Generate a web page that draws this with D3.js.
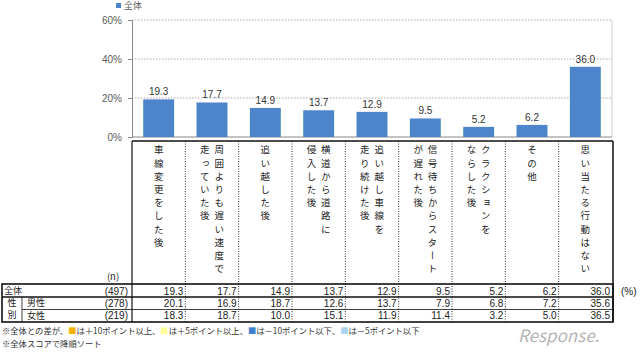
<!DOCTYPE html>
<html>
<head>
<meta charset="utf-8">
<script src="https://cdn.jsdelivr.net/npm/d3@7"></script>
<style>
  body { margin: 0; background: #fff; }
  svg text { font-family: "Noto Sans CJK JP", sans-serif; }
  .num { font-family: "Liberation Sans", Arial, sans-serif; }
  .vert { writing-mode: vertical-rl; }
</style>
</head>
<body>
<svg id="chart"></svg>
<script>
// categories, each split into vertical columns (first = rightmost)
const categories = [
    ["車線変更をした後"],
    ["周囲よりも遅い速度で", "走っていた後"],
    ["追い越した後"],
    ["横道から道路に", "侵入した後"],
    ["追い越し車線を", "走り続けた後"],
    ["信号待ちからスタート", "が遅れた後"],
    ["クラクションを", "ならした後"],
    ["その他"],
    ["思い当たる行動はない"]
];
const totalValues = [19.3, 17.7, 14.9, 13.7, 12.9, 9.5, 5.2, 6.2, 36.0];
const maleValues = [20.1, 16.9, 18.7, 12.6, 13.7, 7.9, 6.8, 7.2, 35.6];
const femaleValues = [18.3, 18.7, 10.0, 15.1, 11.9, 11.4, 3.2, 5.0, 36.5];
const nValues = ["(497)", "(278)", "(219)"];
const yTicks = [0, 20, 40, 60];

const width = 640, height = 353;
const plot = { left: 132, right: 612, top: 20, bottom: 137 };
const table = { left: 2, headTop: 141, rows: [284, 297, 309.5, 322] };
const barColor = "#4d84cc";

const svg = d3.select("#chart").attr("width", width).attr("height", height);

const x = d3.scaleBand()
    .domain(d3.range(categories.length))
    .range([plot.left, plot.right])
    .paddingInner(0.42).paddingOuter(0.21);
const col = d3.scaleBand()
    .domain(d3.range(categories.length))
    .range([plot.left, plot.right]);
const y = d3.scaleLinear().domain([0, 60]).range([plot.bottom, plot.top]);

// legend
svg.append("rect").attr("x", 116).attr("y", 3).attr("width", 5).attr("height", 5).attr("fill", barColor);
svg.append("text").attr("x", 124).attr("y", 9).attr("font-size", 9).attr("fill", "#595959").text("全体");

// gridlines
svg.append("g").selectAll("line")
    .data(yTicks.filter(d => d > 0))
    .enter().append("line")
    .attr("x1", plot.left).attr("x2", plot.right)
    .attr("y1", d => y(d)).attr("y2", d => y(d))
    .attr("stroke", "#aaa").attr("stroke-dasharray", "1.5,1.5");
svg.append("line").attr("x1", plot.right).attr("x2", plot.right)
    .attr("y1", plot.top).attr("y2", plot.bottom).attr("stroke", "#ccc");

// y axis
const yAxis = svg.append("g")
    .attr("transform", `translate(${plot.left},0)`)
    .call(d3.axisLeft(y).tickValues(yTicks).tickSize(4).tickFormat(d => d + "%"));
yAxis.select(".domain").attr("stroke", "#888");
yAxis.selectAll(".tick line").attr("stroke", "#888");
yAxis.selectAll(".tick text").attr("class", "num").attr("font-size", 10).attr("fill", "#595959").attr("x", -10);
svg.append("line").attr("x1", plot.left).attr("x2", plot.right)
    .attr("y1", plot.bottom).attr("y2", plot.bottom).attr("stroke", "#888");

// bars
svg.append("g").selectAll("rect")
    .data(totalValues)
    .enter().append("rect")
    .attr("x", (d, i) => x(i))
    .attr("y", d => y(d))
    .attr("width", x.bandwidth())
    .attr("height", d => plot.bottom - y(d))
    .attr("fill", barColor);

svg.append("g").selectAll("text")
    .data(totalValues)
    .enter().append("text")
    .attr("class", "num")
    .attr("x", (d, i) => x(i) + x.bandwidth() / 2)
    .attr("y", d => y(d) - 4)
    .attr("text-anchor", "middle")
    .attr("font-size", 10)
    .attr("fill", "#333")
    .text(d => d.toFixed(1));

// header with vertical labels, right-to-left columns
const head = svg.append("g");
categories.forEach((lines, i) => {
    const cx = col(i) + col.bandwidth() / 2;
    lines.forEach((line, j) => {
        head.append("text")
            .attr("class", "vert")
            .attr("x", cx + (lines.length - 1) * 7.2 - j * 14.4)
            .attr("y", 145)
            .attr("font-size", 9.5)
            .attr("letter-spacing", 3.7)
            .attr("fill", "#222")
            .text(line);
    });
});

// table lines
const grid = svg.append("g").attr("fill", "none");
d3.range(1, categories.length).forEach(i => {
    grid.append("line")
        .attr("x1", col(i)).attr("x2", col(i))
        .attr("y1", table.headTop).attr("y2", table.rows[3])
        .attr("stroke", "#333").attr("stroke-dasharray", "1,1.5");
});
grid.append("line").attr("x1", plot.left).attr("x2", plot.right + 1)
    .attr("y1", table.headTop).attr("y2", table.headTop).attr("stroke", "#111").attr("stroke-width", 1.5);
grid.append("line").attr("x1", plot.left).attr("x2", plot.left)
    .attr("y1", table.headTop).attr("y2", table.rows[3]).attr("stroke", "#111").attr("stroke-width", 1.2);
grid.append("line").attr("x1", plot.right + 1).attr("x2", plot.right + 1)
    .attr("y1", table.headTop).attr("y2", table.rows[3]).attr("stroke", "#111").attr("stroke-width", 1.5);
grid.append("rect").attr("x", table.left).attr("y", table.rows[0])
    .attr("width", plot.right + 1 - table.left).attr("height", table.rows[3] - table.rows[0])
    .attr("stroke", "#111").attr("stroke-width", 1.6);
grid.append("line").attr("x1", table.left).attr("x2", plot.right + 1)
    .attr("y1", table.rows[1]).attr("y2", table.rows[1]).attr("stroke", "#111").attr("stroke-width", 1.4);
grid.append("line").attr("x1", 22).attr("x2", plot.right + 1)
    .attr("y1", table.rows[2]).attr("y2", table.rows[2]).attr("stroke", "#111").attr("stroke-width", 0.8);
grid.append("line").attr("x1", 22).attr("x2", 22)
    .attr("y1", table.rows[1]).attr("y2", table.rows[3]).attr("stroke", "#111").attr("stroke-width", 0.8);

// table text
const tt = svg.append("g").attr("fill", "#222");
tt.append("text").attr("x", 113).attr("y", 280).attr("font-size", 9.5).attr("text-anchor", "middle").text("(n)");
tt.append("text").attr("x", 4).attr("y", 294.3).attr("font-size", 9).text("全体");
tt.append("text").attr("class", "vert").attr("x", 12).attr("y", 298.5)
    .attr("font-size", 9).attr("letter-spacing", 3).text("性別");
tt.append("text").attr("x", 27).attr("y", 305.8).attr("font-size", 9).text("男性");
tt.append("text").attr("x", 27).attr("y", 319.3).attr("font-size", 9).text("女性");
const rowY = [294.5, 306.7, 319.2];
nValues.forEach((n, r) => {
    tt.append("text").attr("class", "num").attr("font-size", 10)
        .attr("x", 128).attr("y", rowY[r]).attr("text-anchor", "end").text(n);
});
[totalValues, maleValues, femaleValues].forEach((vals, r) => {
    tt.selectAll(null).data(vals).enter().append("text")
        .attr("class", "num")
        .attr("font-size", 10)
        .attr("x", (d, i) => col(i) + col.bandwidth() - 2)
        .attr("y", rowY[r])
        .attr("text-anchor", "end")
        .text(d => d.toFixed(1));
});
tt.append("text").attr("class", "num").attr("font-size", 10).attr("x", 621).attr("y", 294.5).text("(%)");

// notes
const note = svg.append("g").attr("font-size", 8.3).attr("fill", "#333");
const n1 = note.append("text").attr("x", 2).attr("y", 334);
n1.append("tspan").text("※全体との差が、");
n1.append("tspan").attr("fill", "#f0b400").text("■");
n1.append("tspan").text("は＋10ポイント以上、");
n1.append("tspan").attr("fill", "#ffff99").text("■");
n1.append("tspan").text("は＋5ポイント以上、");
n1.append("tspan").attr("fill", "#3f7fd0").text("■");
n1.append("tspan").text("は－10ポイント以下、");
n1.append("tspan").attr("fill", "#a9d3f0").text("■");
n1.append("tspan").text("は－5ポイント以下");
note.append("text").attr("x", 2).attr("y", 347).text("※全体スコアで降順ソート");

// watermark
svg.append("text").attr("x", 518).attr("y", 342)
    .attr("font-family", "Liberation Sans, sans-serif")
    .attr("font-size", 17).attr("font-style", "italic")
    .attr("fill", "#b5b5b5").text("Response.");
</script>
</body>
</html>
